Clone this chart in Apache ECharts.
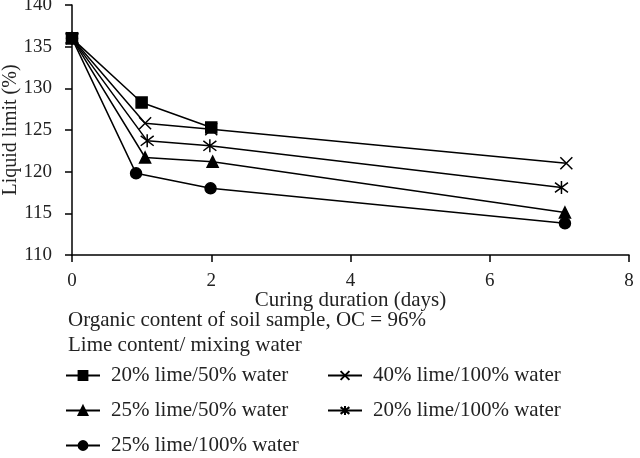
<!DOCTYPE html>
<html>
<head>
<meta charset="utf-8">
<script src="https://cdn.jsdelivr.net/npm/echarts@6/dist/echarts.min.js"></script>
<style>
  html, body { margin: 0; padding: 0; background: #fff; }
  #chart { width: 640px; height: 458px; }
</style>
</head>
<body>
<div id="chart"></div>
<script>
// curing days and liquid limit (%) for each lime/water mix
const seriesNames = ['20% lime/50% water', '40% lime/100% water', '25% lime/50% water', '20% lime/100% water', '25% lime/100% water'];
const days20_50 = [0, 1, 2];
const ll20_50 = [136, 128.3, 125.3];
const days40_100 = [0, 1.05, 2, 7.1];
const ll40_100 = [136, 125.8, 125.1, 121.0];
const days25_50 = [0, 1.05, 2.02, 7.08];
const ll25_50 = [136, 121.7, 121.2, 115.1];
const days20_100 = [0, 1.08, 1.98, 7.03];
const ll20_100 = [136, 123.7, 123.1, 118.1];
const days25_100 = [0, 0.92, 1.99, 7.08];
const ll25_100 = [136, 119.8, 118.0, 113.8];
const xTicks = [0, 2, 4, 6, 8];
const yTicks = [110, 115, 120, 125, 130, 135, 140];

const font = 'Liberation Serif';
const xSym = 'path://M0,0L10,10M10,0L0,10';
const starSym = 'path://M5,0L5,10M1.2,1.2L8.8,8.8M8.8,1.2L1.2,8.8';

const pairs = (xs, ys) => xs.map((x, i) => [x, ys[i]]);

const mkSeries = (name, data, symbol, size) => ({
  name: name,
  type: 'line',
  data: data,
  symbol: symbol,
  symbolSize: size,
  showSymbol: true,
  lineStyle: { color: '#000', width: 1.5 },
  itemStyle: { color: '#000', borderColor: '#000', borderWidth: 1.5 },
  emphasis: { disabled: true },
  animation: false
});

const legendBase = {
  top: 365,
  padding: 0,
  orient: 'vertical',
  itemWidth: 34,
  itemHeight: 11,
  itemGap: 14,
  selectedMode: false,
  textStyle: { fontFamily: font, fontSize: 21, color: '#222', padding: [0, 0, 0, 6] }
};

const chart = echarts.init(document.getElementById('chart'));
chart.setOption({
  backgroundColor: '#fff',
  animation: false,
  textStyle: { fontFamily: font, color: '#222' },
  grid: { left: 72, right: 11, top: 5, bottom: 203, outerBoundsMode: 'none', containLabel: false },
  xAxis: {
    type: 'value',
    min: xTicks[0],
    max: xTicks[xTicks.length - 1],
    interval: 2,
    name: 'Curing duration (days)',
    nameLocation: 'middle',
    nameGap: 35,
    nameMoveOverlap: false,
    nameTextStyle: { fontFamily: font, fontSize: 21, color: '#222' },
    axisLine: { lineStyle: { color: '#000', width: 1.5 } },
    axisTick: { show: true, length: 7, lineStyle: { color: '#000', width: 1.5 } },
    axisLabel: { fontFamily: font, fontSize: 19, color: '#222', margin: 17 },
    splitLine: { show: false }
  },
  yAxis: {
    type: 'value',
    min: yTicks[0],
    max: yTicks[yTicks.length - 1],
    interval: 5,
    name: 'Liquid limit (%)',
    nameLocation: 'middle',
    nameRotate: 90,
    nameGap: 51,
    nameMoveOverlap: false,
    nameTextStyle: { fontFamily: font, fontSize: 20, color: '#222' },
    axisLine: { show: true, lineStyle: { color: '#000', width: 1.5 } },
    axisTick: { show: true, length: 7, lineStyle: { color: '#000', width: 1.5 } },
    axisLabel: { fontFamily: font, fontSize: 19, color: '#222', margin: 20 },
    splitLine: { show: false }
  },
  legend: [
    Object.assign({}, legendBase, { left: 65, data: [seriesNames[0], seriesNames[2], seriesNames[4]] }),
    Object.assign({}, legendBase, { left: 327, data: [seriesNames[1], seriesNames[3]] })
  ],
  graphic: [
    { type: 'text', left: 68, top: 310, style: { text: 'Organic content of soil sample, OC = 96%', font: '21px "Liberation Serif"', fill: '#222' } },
    { type: 'text', left: 68, top: 335, style: { text: 'Lime content/ mixing water', font: '21px "Liberation Serif"', fill: '#222' } }
  ],
  series: [
    mkSeries(seriesNames[4], pairs(days25_100, ll25_100), 'circle', 11),
    mkSeries(seriesNames[2], pairs(days25_50, ll25_50), 'triangle', 11),
    mkSeries(seriesNames[3], pairs(days20_100, ll20_100), starSym, 13),
    mkSeries(seriesNames[1], pairs(days40_100, ll40_100), xSym, 12),
    mkSeries(seriesNames[0], pairs(days20_50, ll20_50), 'rect', 11)
  ]
});
</script>
</body>
</html>
